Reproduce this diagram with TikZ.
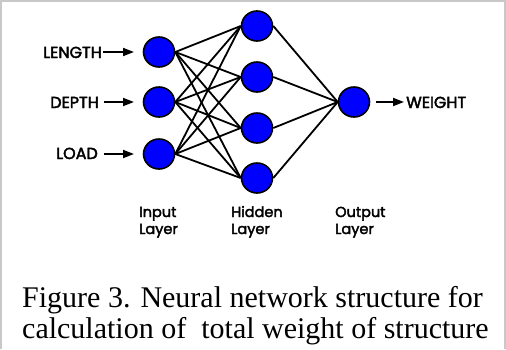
\documentclass[tikz,border=0pt]{standalone}
\usepackage{fontspec}
\setmainfont{Liberation Serif}
\newfontfamily\labfont[FakeBold=2.5]{Poppins}
\usetikzlibrary{arrows.meta,shapes.geometric}
\definecolor{nodeblue}{RGB}{0,0,255}
\definecolor{frame}{RGB}{200,200,200}
\begin{document}
\begin{tikzpicture}[x=1pt,y=-1pt,
  neuron/.style={ellipse, draw=black, line width=1.6pt, fill=nodeblue, minimum width=31pt, minimum height=30pt, inner sep=0pt},
  link/.style={line width=1.8pt, black},
  inarrow/.style={line width=1.8pt, -{Triangle[length=11pt,width=8pt]}},
  caplab/.style={font=\labfont\fontsize{16}{18}\selectfont, inner sep=0pt, anchor=base east},
  laylab/.style={font=\labfont\fontsize{14.5}{17}\selectfont, inner sep=0pt, anchor=base west},
  caption/.style={font=\fontsize{30}{31}\selectfont, inner sep=0pt, anchor=base west}
]
\useasboundingbox (0,0) rectangle (506,349);
\fill[white] (0,0) rectangle (506,349);
\fill[frame] (0,0) rectangle (2,349);
\fill[frame] (0,0) rectangle (506,2);
\fill[frame] (504,0) rectangle (505.5,349);
% input layer
\node[neuron] (i1) at (159,52) {};
\node[neuron] (i2) at (159,102) {};
\node[neuron] (i3) at (159,154) {};
% hidden layer
\node[neuron] (h1) at (257,26) {};
\node[neuron] (h2) at (257,77) {};
\node[neuron] (h3) at (257,128) {};
\node[neuron] (h4) at (257,178) {};
% output
\node[neuron] (o) at (354,102) {};
\foreach \i in {1,2,3}{\foreach \h in {1,2,3,4}{\draw[link] (i\i.east) -- (h\h.west);}}
\foreach \h in {1,2,3,4}{\draw[link] (h\h.east) -- (o.west);}
% input labels
\coordinate (a1s) at (103,52); \coordinate (a1e) at (134,52);
\coordinate (a2s) at (104,102); \coordinate (a2e) at (134,102);
\coordinate (a3s) at (104,154); \coordinate (a3e) at (134,154);
\draw[inarrow] (a1s) -- (a1e);
\draw[inarrow] (a2s) -- (a2e);
\draw[inarrow] (a3s) -- (a3e);
\node[caplab] (tl) at (102,58) {LENGTH};
\node[caplab] (td) at (99,108) {DEPTH};
\node[caplab] (tlo) at (98,159) {LOAD};
\coordinate (wos) at (376,102); \coordinate (woe) at (404,102);
\draw[inarrow] (wos) -- (woe);
\node[caplab, anchor=base west] (tw) at (406,108) {WEIGHT};
% layer labels
\node[laylab] (li1) at (139,217) {Input};
\node[laylab] (li2) at (139,234) {Layer};
\node[laylab] (lh1) at (231,217) {Hidden};
\node[laylab] (lh2) at (231,234) {Layer};
\node[laylab] (lo1) at (335,217) {Output};
\node[laylab] (lo2) at (335,234) {Layer};
% caption
\node[caption] (cap1) at (22,307) {Figure 3. Neural network structure for};
\node[caption] (cap2) at (22,338) {calculation of\ \ total weight of structure};
\end{tikzpicture}
\end{document}
